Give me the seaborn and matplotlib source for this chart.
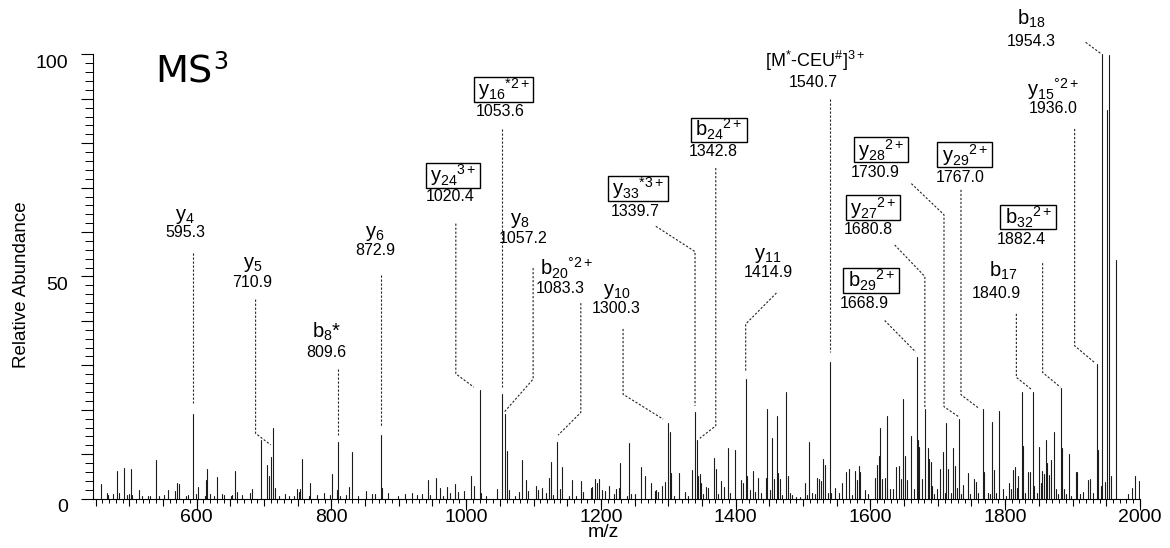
import numpy as np
import pandas as pd
import matplotlib
matplotlib.use("Agg")
import matplotlib.pyplot as plt
import matplotlib.transforms as mtransforms
from matplotlib.patches import Rectangle
from matplotlib.ticker import MultipleLocator, FuncFormatter
import seaborn as sns

# ---------------- data ----------------
peak_mz = [
    457.6, 466.5, 469.0, 475.4, 482.3, 485.3, 492.7, 497.1, 500.1, 502.1,
    504.6, 514.0, 518.9, 528.3, 530.8, 539.2, 544.6, 552.0, 558.0, 567.9,
    570.8, 573.3, 584.2, 586.7, 595.3, 599.0, 601.5, 612.4, 613.9, 615.3,
    619.8, 625.7, 630.7, 638.1, 640.6, 650.5, 652.9, 657.4, 659.9, 667.8,
    679.1, 682.6, 695.3, 703.9, 707.3, 710.9, 713.5, 715.7, 721.7, 731.1,
    737.5, 743.9, 748.9, 751.4, 753.3, 756.3, 766.2, 767.7, 779.0, 788.5,
    797.8, 800.3, 807.8, 809.6, 813.0, 821.6, 826.5, 830.9, 838.9, 851.3,
    859.6, 865.1, 872.9, 875.5, 884.4, 899.2, 909.1, 919.0, 927.4, 933.8,
    943.7, 947.0, 954.6, 961.0, 966.0, 971.0, 975.9, 983.3, 988.1, 997.0,
    1007.9, 1011.9, 1020.4, 1022.0, 1029.2, 1046.0, 1053.6, 1057.2, 1061.3, 1063.5,
    1072.0, 1078.2, 1083.6, 1089.0, 1092.0, 1103.9, 1107.0, 1112.8, 1118.0, 1123.7,
    1125.6, 1129.0, 1134.5, 1139.0, 1143.0, 1152.0, 1157.8, 1163.0, 1170.2, 1173.0,
    1185.0, 1187.5, 1191.0, 1193.9, 1197.9, 1201.8, 1205.8, 1211.7, 1219.0, 1223.1,
    1226.5, 1229.0, 1239.0, 1241.9, 1244.0, 1250.0, 1259.2, 1266.1, 1275.0, 1280.0,
    1282.4, 1285.0, 1291.0, 1294.8, 1300.3, 1302.7, 1304.7, 1308.0, 1316.1, 1324.5,
    1330.0, 1335.4, 1339.7, 1342.8, 1344.3, 1346.8, 1348.2, 1352.0, 1356.6, 1359.0,
    1367.5, 1371.5, 1374.0, 1378.9, 1383.0, 1388.8, 1392.0, 1398.7, 1407.6, 1411.0,
    1414.9, 1416.5, 1421.0, 1425.9, 1428.0, 1433.3, 1437.0, 1445.7, 1447.2, 1451.0,
    1454.6, 1457.0, 1461.0, 1463.0, 1465.5, 1469.0, 1475.4, 1477.0, 1480.3, 1483.0,
    1490.0, 1495.0, 1503.5, 1506.0, 1509.5, 1514.0, 1518.0, 1521.4, 1524.0, 1527.3,
    1529.8, 1532.0, 1537.0, 1540.7, 1542.0, 1547.1, 1554.0, 1558.0, 1564.4, 1568.3,
    1572.0, 1576.7, 1580.0, 1582.7, 1585.2, 1591.6, 1597.0, 1606.4, 1610.4, 1612.4,
    1614.3, 1617.0, 1621.3, 1624.0, 1625.2, 1629.0, 1633.6, 1638.1, 1642.0, 1645.0,
    1648.5, 1651.0, 1655.0, 1659.8, 1664.0, 1668.9, 1670.5, 1672.2, 1677.1, 1680.8,
    1685.0, 1687.0, 1689.5, 1692.0, 1695.0, 1698.9, 1703.8, 1708.3, 1710.0, 1712.7,
    1715.7, 1719.0, 1723.1, 1725.6, 1728.0, 1730.9, 1734.0, 1738.0, 1744.4, 1748.0,
    1753.8, 1756.8, 1760.0, 1767.0, 1768.8, 1774.0, 1777.0, 1781.0, 1783.0, 1786.0,
    1790.9, 1796.8, 1801.0, 1805.7, 1808.0, 1811.7, 1814.1, 1817.0, 1819.6, 1824.5,
    1826.5, 1830.0, 1833.4, 1837.4, 1840.9, 1843.0, 1847.0, 1850.7, 1853.0, 1855.2,
    1858.0, 1860.1, 1862.6, 1865.1, 1868.0, 1872.0, 1875.0, 1878.0, 1882.4, 1883.9,
    1887.0, 1891.0, 1894.8, 1897.0, 1904.6, 1907.1, 1911.0, 1915.0, 1923.4, 1925.9,
    1930.0, 1936.0, 1937.8, 1942.2, 1944.2, 1948.0, 1951.7, 1953.7, 1956.5, 1963.9,
    1982.0, 1987.5, 1993.0, 1998.5,
]
peak_rel = [
    3.4, 1.3, 0.8, 1.0, 6.3, 1.3, 7.0, 0.8, 1.0, 6.6,
    0.8, 1.9, 0.7, 0.5, 0.5, 8.6, 0.7, 0.8, 1.9, 1.7,
    3.6, 3.2, 0.7, 0.8, 19.0, 1.0, 2.7, 0.5, 4.2, 6.6,
    1.0, 0.5, 4.9, 1.0, 0.9, 0.6, 0.9, 6.3, 1.6, 0.8,
    1.2, 2.1, 13.2, 7.6, 5.1, 9.4, 15.8, 2.3, 0.7, 1.0,
    0.5, 0.7, 2.1, 1.6, 2.1, 8.9, 0.6, 3.6, 0.8, 1.2,
    0.8, 5.5, 1.9, 12.7, 0.6, 0.8, 2.7, 10.6, 0.5, 1.8,
    1.0, 1.0, 14.4, 2.3, 1.2, 0.5, 1.0, 1.3, 0.8, 1.0,
    4.2, 0.8, 4.6, 2.5, 0.6, 2.7, 1.2, 3.2, 1.4, 1.7,
    5.0, 2.9, 24.5, 1.2, 0.7, 2.1, 23.5, 19.1, 10.7, 1.9,
    0.5, 1.4, 8.6, 4.2, 1.8, 2.9, 1.9, 2.3, 1.2, 4.7,
    8.3, 0.8, 12.8, 2.1, 7.2, 0.7, 4.2, 0.5, 4.0, 1.5,
    2.3, 2.7, 4.4, 3.5, 4.4, 2.0, 1.7, 2.9, 1.0, 2.1,
    2.4, 8.1, 0.5, 12.5, 1.1, 1.1, 7.2, 5.2, 3.6, 1.7,
    2.0, 1.5, 2.8, 3.8, 17.0, 15.1, 5.7, 0.7, 5.7, 1.5,
    0.5, 6.5, 19.6, 13.2, 5.0, 5.6, 3.6, 1.1, 2.7, 2.3,
    9.1, 6.7, 1.1, 4.0, 2.6, 11.5, 1.3, 11.0, 4.1, 3.5,
    26.9, 5.2, 2.0, 6.3, 1.6, 4.6, 1.3, 4.7, 20.1, 2.0,
    13.7, 4.4, 18.6, 5.8, 4.4, 0.9, 24.1, 5.0, 1.3, 0.9,
    0.4, 0.4, 3.6, 0.8, 12.7, 1.3, 1.1, 4.6, 4.4, 4.0,
    8.9, 7.6, 1.3, 30.8, 1.3, 2.3, 1.3, 3.6, 6.1, 6.7,
    0.9, 6.2, 4.2, 7.4, 5.9, 1.9, 1.0, 4.7, 7.6, 9.6,
    15.8, 4.4, 4.6, 2.3, 18.6, 2.1, 2.1, 7.2, 7.4, 4.4,
    22.5, 9.6, 4.1, 14.1, 2.1, 31.8, 13.2, 11.7, 4.4, 20.1,
    11.3, 8.9, 8.3, 2.9, 1.0, 2.1, 6.6, 10.4, 1.3, 17.0,
    6.6, 1.3, 11.3, 7.4, 2.3, 17.9, 1.0, 3.1, 5.7, 1.0,
    4.4, 3.8, 1.3, 20.1, 5.9, 1.3, 1.0, 17.2, 6.5, 1.3,
    19.8, 2.1, 0.6, 3.6, 2.1, 6.5, 7.1, 2.4, 5.0, 24.0,
    11.9, 1.3, 5.9, 6.1, 24.0, 2.8, 1.2, 11.7, 3.5, 6.2,
    5.6, 13.2, 8.0, 5.3, 8.7, 15.1, 2.1, 1.0, 24.9, 11.3,
    2.1, 1.0, 10.1, 0.6, 6.1, 5.9, 1.1, 1.5, 4.2, 4.4,
    1.3, 30.4, 11.0, 2.8, 100.0, 3.8, 87.5, 99.8, 5.0, 53.7,
    1.0, 2.5, 5.0, 4.0,
]

# annotated ions: label text, m/z text, m/z of the peak the label points to, boxed?
ion_labels = [
    r"$\mathregular{y_{4}}$", r"$\mathregular{y_{5}}$", r"$\mathregular{b_{8}}$*",
    r"$\mathregular{y_{6}}$", r"$\mathregular{y_{24}{}^{3+}}$",
    r"$\mathregular{y_{16}{}^{*2+}}$", r"$\mathregular{y_{8}}$",
    r"$\mathregular{b_{20}{}^{°2+}}$", r"$\mathregular{y_{10}}$",
    r"$\mathregular{y_{33}{}^{*3+}}$", r"$\mathregular{b_{24}{}^{2+}}$",
    r"$\mathregular{y_{11}}$", r"[M$^{*}$-CEU$^{\#}$]$^{3+}$",
    r"$\mathregular{y_{28}{}^{2+}}$", r"$\mathregular{y_{27}{}^{2+}}$",
    r"$\mathregular{b_{29}{}^{2+}}$", r"$\mathregular{y_{29}{}^{2+}}$",
    r"$\mathregular{b_{32}{}^{2+}}$", r"$\mathregular{b_{17}}$",
    r"$\mathregular{y_{15}{}^{°2+}}$", r"$\mathregular{b_{18}}$",
]
ion_values = [
    "595.3", "710.9", "809.6", "872.9", "1020.4", "1053.6", "1057.2", "1083.3",
    "1300.3", "1339.7", "1342.8", "1414.9", "1540.7", "1730.9", "1680.8",
    "1668.9", "1767.0", "1882.4", "1840.9", "1936.0", "1954.3",
]
ion_peaks = [
    595.3, 710.9, 809.6, 872.9, 1020.4, 1053.6, 1057.2, 1134.5, 1300.3, 1339.7,
    1342.8, 1414.9, 1540.7, 1730.9, 1680.8, 1668.9, 1767.0, 1882.4, 1840.9,
    1936.0, 1944.2,
]
ion_boxed = [
    False, False, False, False, True, True, False, False, False, True,
    True, False, False, True, True, True, True, True, False, False, False,
]

x_tick_labels = [600, 800, 1000, 1200, 1400, 1600, 1800, 2000]
y_tick_labels = [0, 50, 100]

# ---------------- layout (label placement, leader bends) ----------------
# ion label centre, number centre, leader bend points ('P' = x of the peak), end offset
layout = [
    dict(ion=(582.6, 63.6), num=(582.6, 59.8), path=[("P", 55.3)], end=(0, 2.5)),
    dict(ion=(683.5, 52.8), num=(682.2, 48.7), path=[(687.5, 44.8), (687.5, 14.7)], end=(-1, 2.7)),
    dict(ion=(792.9, 37.6), num=(792.7, 32.8), path=[("P", 29.2)], end=(0, 1.6)),
    dict(ion=(864.5, 59.6), num=(864.5, 55.9), path=[("P", 50.4)], end=(0, 2.0)),
    dict(ion=(981.5, 72.8), num=(975.8, 68.0), path=[(984.7, 61.9), (984.7, 28.1)], end=(-9, 0.6)),
    dict(ion=(1056.2, 92.1), num=(1050.0, 87.2), path=[("P", 83.2)], end=(0, 1.7)),
    dict(ion=(1079.7, 62.6), num=(1084.6, 58.6), path=[(1099.4, 51.9), (1099.4, 26.9)], end=(0, 0.5)),
    dict(ion=(1149.0, 52.0), num=(1139.0, 47.2), path=[(1170.2, 44.0), (1170.2, 19.4)], end=(2, 1.5)),
    dict(ion=(1223.1, 46.6), num=(1223.1, 42.7), path=[(1232.9, 38.2), (1232.9, 23.5)], end=(-8, 0.9)),
    dict(ion=(1255.2, 69.8), num=(1250.3, 64.6), path=[(1281.5, 61.3), ("P", 55.6)], end=(0, 1.3)),
    dict(ion=(1375.7, 83.0), num=(1366.5, 78.2), path=[(1370.5, 74.4), (1370.5, 16.4)], end=(4, 0.4)),
    dict(ion=(1448.1, 54.8), num=(1448.1, 50.8), path=[(1460.5, 46.3), ("P", 39.3)], end=(0, 1.7)),
    dict(ion=(1517.4, 98.4), num=(1514.8, 93.6), path=[("P", 90.0)], end=(0, 2.1)),
    dict(ion=(1616.3, 78.5), num=(1606.4, 73.4), path=[(1660.8, 70.9), (1709.2, 63.9), (1709.2, 20.7)], end=(0.5, 0.5)),
    dict(ion=(1604.2, 65.5), num=(1597.5, 60.5), path=[(1636.0, 57.1), ("P", 50.0)], end=(0, 0.5)),
    dict(ion=(1601.5, 49.1), num=(1591.5, 44.0), path=[(1621.2, 40.1)], end=(-1.7, 1.2)),
    dict(ion=(1740.7, 77.4), num=(1732.5, 72.2), path=[(1734.4, 69.5), (1734.4, 23.4)], end=(-7.4, 0.4)),
    dict(ion=(1834.6, 63.3), num=(1824.0, 58.3), path=[(1855.6, 53.0), (1855.6, 28.4)], end=(-0.5, 0.2)),
    dict(ion=(1796.7, 51.2), num=(1786.9, 46.1), path=[(1816.6, 41.6), (1816.6, 27.3)], end=(-2, 0.6)),
    dict(ion=(1871.0, 92.3), num=(1871.0, 87.7), path=[(1903.1, 83.2), (1903.1, 34.4)], end=(-3, 0.2)),
    dict(ion=(1838.9, 107.9), num=(1838.9, 102.9), path=[(1919.4, 102.7)], end=(-1.5, 0.1)),
]

# ---------------- style ----------------
sns.set_theme(style="ticks")
plt.rcParams["font.family"] = ["Liberation Sans", "DejaVu Sans"]
plt.rcParams["mathtext.fontset"] = "custom"
plt.rcParams["mathtext.rm"] = "Liberation Sans"
plt.rcParams["mathtext.it"] = "Liberation Sans:italic"
plt.rcParams["mathtext.bf"] = "Liberation Sans:bold"
plt.rcParams["mathtext.default"] = "regular"
plt.rcParams["axes.linewidth"] = 0.8
for k in ["text.color", "axes.labelcolor", "xtick.color", "ytick.color",
          "axes.edgecolor", "xtick.labelcolor", "ytick.labelcolor"]:
    plt.rcParams[k] = "black"

fig = plt.figure(figsize=(11.7, 5.48), dpi=100)
ax = fig.add_axes([0.0792, 0.0900, 0.8951, 0.8109])

# stick spectrum
n = len(peak_mz)
df = pd.DataFrame({
    "mz": np.repeat(peak_mz, 2),
    "rel": np.column_stack([np.zeros(n), peak_rel]).ravel(),
    "peak": np.repeat(np.arange(n), 2),
})
sns.lineplot(data=df, x="mz", y="rel", units="peak", estimator=None, sort=False,
             color="#1c1c1c", linewidth=0.8, ax=ax, legend=False)

ax.set_xlim(445.7, 2000)
ax.set_ylim(0, 100)
sns.despine(ax=ax)

# ticks
ax.xaxis.set_major_locator(MultipleLocator(50))
ax.xaxis.set_minor_locator(MultipleLocator(10))
ax.xaxis.set_major_formatter(FuncFormatter(
    lambda v, p: f"{int(round(v))}" if int(round(v)) in x_tick_labels else ""))
ax.yaxis.set_major_locator(MultipleLocator(10))
ax.yaxis.set_minor_locator(MultipleLocator(2))
ax.yaxis.set_major_formatter(FuncFormatter(
    lambda v, p: f"{int(round(v))}" if int(round(v)) in y_tick_labels else ""))
ax.tick_params(axis="x", which="major", length=5.0, width=0.8, pad=2.6,
               labelsize=14, direction="out")
ax.tick_params(axis="x", which="minor", length=2.8, width=0.7, direction="out")
ax.tick_params(axis="y", which="major", length=8.6, width=0.8, pad=9,
               labelsize=14, direction="out")
ax.tick_params(axis="y", which="minor", length=5.5, width=0.7, direction="out")

sec = ax.secondary_xaxis("bottom")
sec.set_xticks(x_tick_labels)
sec.tick_params(length=7.9, width=0.8, labelbottom=False)
sec.spines["bottom"].set_visible(False)

offset = mtransforms.ScaledTranslation(0, -5 / 72, fig.dpi_scale_trans)
for lbl in ax.yaxis.get_majorticklabels():
    lbl.set_transform(lbl.get_transform() + offset)

ax.set_xlabel("m/z", fontsize=14, labelpad=0)
ax.xaxis.set_label_coords(0.488, -0.058)
ax.set_ylabel("")
fig.text(22 / 1170, 1 - 285 / 548, "Relative Abundance", rotation=90,
         ha="center", va="center", fontsize=13.5)

# title-like label
ax.text(538.3, 93.6, "MS", fontsize=27.5, family="DejaVu Sans", ha="left", va="baseline")
ax.text(625.0, 101.0, "3", fontsize=17, family="DejaVu Sans", ha="left", va="top")

# annotations
rel_of = dict(zip(peak_mz, peak_rel))
leader_style = dict(color="#222222", linewidth=0.8, linestyle=(0, (2.0, 1.6)), clip_on=False)
boxed_texts = []
for lab, val, pk, bx, lay in zip(ion_labels, ion_values, ion_peaks, ion_boxed, layout):
    h = rel_of[pk]
    pts = [(pk if px == "P" else px, py) for px, py in lay["path"]]
    pts.append((pk + lay["end"][0], h + lay["end"][1]))
    xs, ys = zip(*pts)
    ax.plot(xs, ys, **leader_style)
    ax.text(lay["num"][0], lay["num"][1], val, ha="center", va="center", fontsize=11.5)
    fs = 13 if lab.startswith("[") else 14.5
    t = ax.text(lay["ion"][0], lay["ion"][1], lab, ha="center", va="center",
                fontsize=fs, zorder=5)
    if bx:
        boxed_texts.append(t)

# tight rectangles around boxed ion labels
fig.canvas.draw()
renderer = fig.canvas.get_renderer()
inv = ax.transData.inverted()
for t in boxed_texts:
    bb = t.get_window_extent(renderer)
    (x0, y0) = inv.transform((bb.x0 - 4.5, bb.y0 + 0.5))
    (x1, y1) = inv.transform((bb.x1 + 3.5, bb.y1 - 0.5))
    ax.add_patch(Rectangle((x0, y0), x1 - x0, y1 - y0, facecolor="white",
                           edgecolor="black", linewidth=1.0, zorder=4, clip_on=False))

fig.savefig("out.png", dpi=100)
